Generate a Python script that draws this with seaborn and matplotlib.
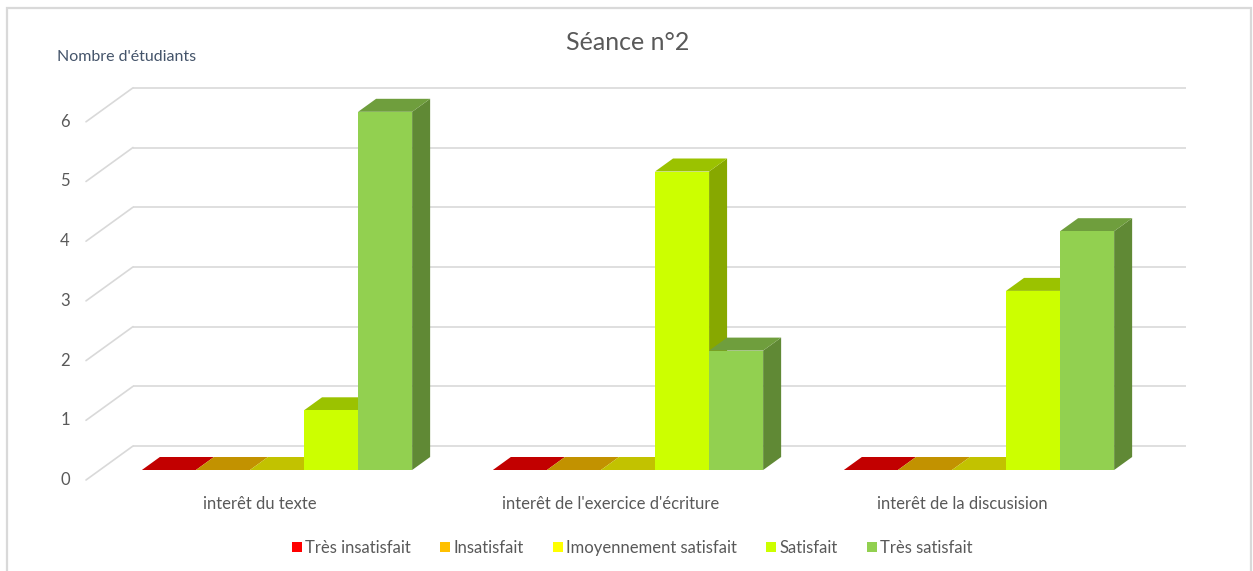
import numpy as np
import pandas as pd
import matplotlib
matplotlib.use("Agg")
import matplotlib.pyplot as plt
import seaborn as sns
from matplotlib.patches import Polygon, Rectangle
from matplotlib.colors import to_rgb

# ---------------- data ----------------
categories = ["interêt du texte", "interêt de l'exercice d'écriture", "interêt de la discusision"]
levels = ["Très insatisfait", "Insatisfait", "Imoyennement satisfait", "Satisfait", "Très satisfait"]
tres_insatisfait = [0, 0, 0]
insatisfait = [0, 0, 0]
moyennement_satisfait = [0, 0, 0]
satisfait = [1, 5, 3]
tres_satisfait = [6, 2, 4]
y_ticks = [0, 1, 2, 3, 4, 5, 6]
colors = ["#FF0000", "#FFC000", "#FFFF00", "#CCFF00", "#92D050"]
title = "Séance n°2"
y_label = "Nombre d'étudiants"

series = [tres_insatisfait, insatisfait, moyennement_satisfait, satisfait, tres_satisfait]
df = pd.DataFrame({
    "categorie": [c for s in series for c in categories],
    "niveau": [lv for lv, s in zip(levels, series) for _ in categories],
    "valeur": [v for s in series for v in s],
})

# ---------------- style ----------------
sns.set_theme(style="white")
plt.rcParams["font.family"] = ["Lato", "DejaVu Sans"]
TXT = "#595959"
GRID = "#D9D9D9"

W, H = 1253, 571
fig = plt.figure(figsize=(W / 100, H / 100), dpi=100)
fig.patch.set_facecolor("white")

# chart frame
fig.add_artist(Rectangle((7 / W, -0.02), (1251 - 7) / W, (H - 8) / H + 0.02,
                         transform=fig.transFigure, fill=False, edgecolor=GRID, lw=1.6))

PX_X = 351.0   # px per category
PX_Y = 59.7    # px per unit
ax_left = 101.5
ax_bottom = 101.0
ax = fig.add_axes([ax_left / W, ax_bottom / H, 3 * PX_X / W, 7 * PX_Y / H])
ax.set_xlim(-0.5, 2.5)
ax.set_ylim(0, 7)
ax.axis("off")

def dx(px):
    return px / PX_X

def dy(px):
    return px / PX_Y

sns.barplot(data=df, x="categorie", y="valeur", hue="niveau", order=categories,
            hue_order=levels, palette=colors, width=0.77, saturation=1,
            legend=False, ax=ax)

# ---------------- 3D walls (gridlines) ----------------
back_dx, back_dy = dx(33), dy(24)
front_dx, front_dy = dx(-14), dy(-10)
x_left_back = -0.5 + dx(133 - ax_left)
x_right_back = -0.5 + dx(1186 - ax_left)
x_left_front = x_left_back - back_dx + front_dx
for v in y_ticks:
    ax.plot([x_left_back, x_right_back], [v + back_dy, v + back_dy], color=GRID,
            lw=1.2, zorder=0.5, clip_on=False, solid_capstyle="butt")
    ax.plot([x_left_front, x_left_back], [v + front_dy, v + back_dy], color=GRID,
            lw=1.2, zorder=0.5, clip_on=False)
    ax.text(x_left_front - dx(21), v + front_dy, str(v), ha="center", va="center",
            color=TXT, fontsize=12, clip_on=False)

# ---------------- 3D bars ----------------
bd_x, bd_y = dx(18), dy(13)
bars = sorted(ax.patches, key=lambda p: p.get_x())
for k, p in enumerate(bars):
    x, w, h = p.get_x(), p.get_width(), p.get_height()
    c = np.array(to_rgb(p.get_facecolor()))
    p.set_edgecolor("none")
    p.set_zorder(3 + 2 * k)
    top = Polygon([(x, h), (x + w, h), (x + w + bd_x, h + bd_y), (x + bd_x, h + bd_y)],
                  closed=True, facecolor=c * 0.76, edgecolor="none", zorder=2 + 2 * k,
                  clip_on=False)
    side = Polygon([(x + w, 0), (x + w, h), (x + w + bd_x, h + bd_y), (x + w + bd_x, bd_y)],
                   closed=True, facecolor=c * 0.66, edgecolor="none", zorder=2 + 2 * k,
                   clip_on=False)
    ax.add_patch(side)
    ax.add_patch(top)

# ---------------- category labels ----------------
for i, cat in enumerate(categories):
    ax.text(i + dx(-17), dy(-34), cat, ha="center", va="center", color=TXT,
            fontsize=12, clip_on=False)

# ---------------- texts ----------------
fig.text(628 / W, 1 - 43 / H, title, ha="center", va="center", color=TXT, fontsize=18)
fig.text(57 / W, 1 - 57 / H, y_label, ha="left", va="center", color="#44546A", fontsize=11.5)

handles = [Rectangle((0, 0), 1, 1, facecolor=c, edgecolor="none") for c in colors]
leg = fig.legend(handles, levels, loc="center", bbox_to_anchor=(632 / W, 1 - 548 / H),
                 ncol=5, frameon=False, handlelength=0.6, handleheight=0.6,
                 handletextpad=0.2, columnspacing=1.75, fontsize=12)
for t in leg.get_texts():
    t.set_color(TXT)

fig.savefig("out.png", dpi=100, facecolor="white")
